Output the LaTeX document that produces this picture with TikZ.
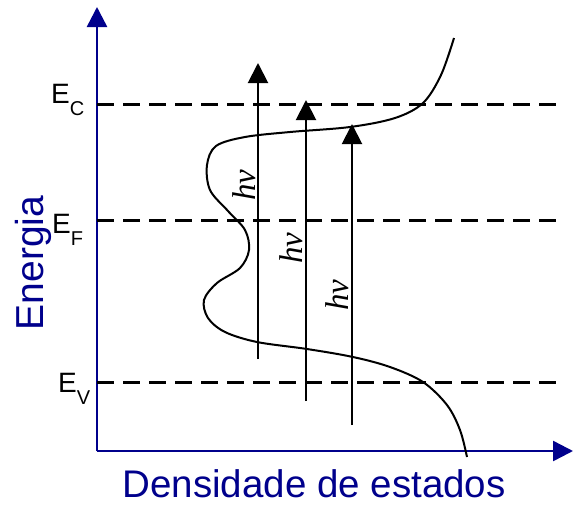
\documentclass[tikz,border=0pt]{standalone}
\usepackage{fontspec}
\setmainfont{Liberation Sans}
\newfontfamily\serifit{Liberation Serif}
\usetikzlibrary{arrows.meta}
\definecolor{axisblue}{RGB}{0,0,140}
\tikzset{
  axisline/.style={draw=axisblue, line width=2.5pt, -{Triangle[length=20pt,width=20pt]}},
  level/.style={draw=black, line width=3pt, dash pattern=on 17pt off 9pt},
  photon/.style={draw=black, line width=2pt, -{Triangle[length=20pt,width=20pt]}},
  dos/.style={draw=black, line width=2pt},
  lvllabel/.style={anchor=base west, inner sep=0pt, font=\fontsize{28}{28}\selectfont},
  hnu/.style={rotate=90, inner sep=0pt, font=\fontsize{33}{33}\selectfont\serifit\itshape},
  axlabel/.style={text=axisblue, inner sep=0pt, anchor=base}
}
\newcommand{\lvlsub}[1]{\raisebox{-12pt}{\fontsize{20}{20}\selectfont #1}}
\begin{document}
\begin{tikzpicture}[x=1pt,y=-1pt]
\useasboundingbox (0,0) rectangle (573,504);
% axes
\coordinate (O) at (97,451);
\coordinate (ytip) at (97,7);
\coordinate (xtip) at (573,451);
\draw[axisline] (O) -- (ytip);
\draw[axisline] (O) -- (xtip);
% levels
\coordinate (ec0) at (97,104); \coordinate (ec1) at (562,104);
\coordinate (ef0) at (97,220); \coordinate (ef1) at (562,220);
\coordinate (ev0) at (97,382); \coordinate (ev1) at (562,382);
\draw[level] (ec0) -- (ec1);
\draw[level] (ef0) -- (ef1);
\draw[level] (ev0) -- (ev1);
\node[lvllabel] (lec) at (51,103) {E\lvlsub{C}};
\node[lvllabel] (lef) at (52,233) {E\lvlsub{F}};
\node[lvllabel] (lev) at (58,392) {E\lvlsub{V}};
% density of states curve
\draw[dos] plot[smooth, tension=0.55] coordinates {
 (454,38) (441,75) (423,103) (395,118) (350,127) (290,132) (245,137)
 (216,146) (207,165) (210,190) (228,211) (245,230) (249,250) (240,268)
 (217,283) (204,300) (208,318) (225,332) (257,342) (307,349) (353,357)
 (390,367) (423,382) (447,405) (460,430) (467,457)};
% photon arrows
\coordinate (a1s) at (258,359); \coordinate (a1e) at (258,63);
\coordinate (a2s) at (306,401); \coordinate (a2e) at (306,100);
\coordinate (a3s) at (352,425); \coordinate (a3e) at (352,124);
\draw[photon] (a1s) -- (a1e);
\draw[photon] (a2s) -- (a2e);
\draw[photon] (a3s) -- (a3e);
\node[hnu] (h1) at (244,185) {hν};
\node[hnu] (h2) at (291,248) {hν};
\node[hnu] (h3) at (337,295) {hν};
% axis labels
\node[axlabel, rotate=90, font=\fontsize{39}{39}\selectfont] (ylab) at (43,263) {Energia};
\node[axlabel, text depth=0pt, font=\fontsize{38.5}{38.5}\selectfont] (xlab) at (314,497) {Densidade de estados};
\end{tikzpicture}
\end{document}
